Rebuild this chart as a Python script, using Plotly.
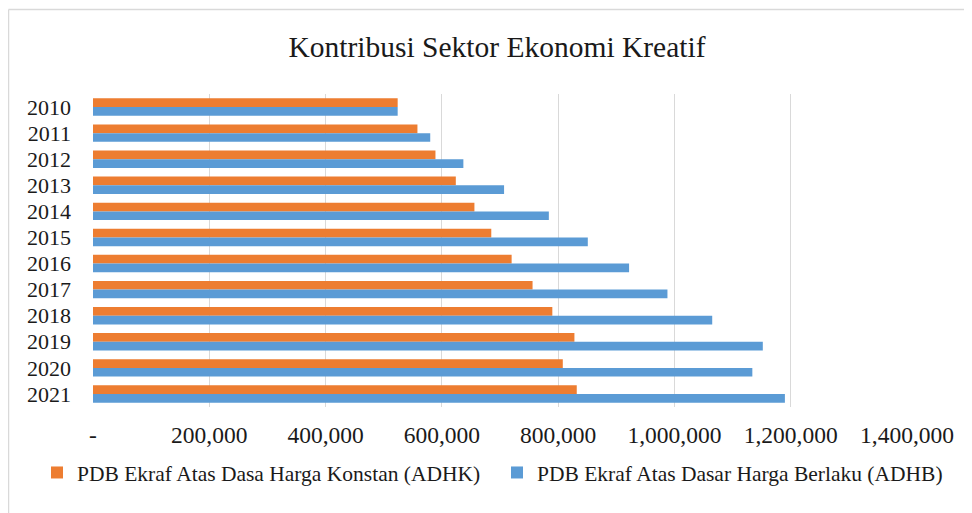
import plotly.graph_objects as go

years = ["2010", "2011", "2012", "2013", "2014", "2015", "2016", "2017", "2018", "2019", "2020", "2021"]
adhk = [524000, 558000, 589000, 624000, 656000, 685000, 720000, 756000, 790000, 828000, 808000, 832000]
adhb = [524000, 580000, 637000, 707000, 784000, 851000, 922000, 988000, 1065000, 1152000, 1134000, 1190000]
tick_vals = [0, 200000, 400000, 600000, 800000, 1000000, 1200000, 1400000]
tick_text = ["-", "200,000", "400,000", "600,000", "800,000", "1,000,000", "1,200,000", "1,400,000"]
name_adhk = "PDB Ekraf Atas Dasa Harga Konstan (ADHK)"
name_adhb = "PDB Ekraf Atas Dasar Harga Berlaku (ADHB)"
title_text = "Kontribusi Sektor Ekonomi Kreatif"

FONT = "Liberation Serif"
OFF = 8  # page body margin
W, H = 972 - OFF, 513 - OFF
# plot area in screen px: x 93..907, y 94..407
ML, MT = 93 - OFF, 94 - OFF
MR = W - (907 - OFF)
MB = H - (407 - OFF)
PW = W - ML - MR
PH = H - MT - MB


def px_x(p):
    return (p - OFF - ML) / PW


def px_y(p):
    return (H - MB - (p - OFF)) / PH


fig = go.Figure()
fig.add_trace(go.Bar(y=years, x=adhk, orientation="h", name=name_adhk, legend="legend",
                     marker=dict(color="#ED7D31", line=dict(width=0))))
fig.add_trace(go.Bar(y=years, x=adhb, orientation="h", name=name_adhb, legend="legend2",
                     marker=dict(color="#5B9BD5", line=dict(width=0))))

leg_common = dict(orientation="h", xanchor="left", yanchor="middle", bgcolor="rgba(0,0,0,0)",
                  itemwidth=30, font=dict(family=FONT, size=21.5, color="#1a1a1a"))

fig.update_layout(
    width=W, height=H,
    margin=dict(l=ML, r=MR, t=MT, b=MB, autoexpand=False),
    paper_bgcolor="white", plot_bgcolor="white",
    barmode="group", bargap=0.33, bargroupgap=0,
    font=dict(family=FONT, color="#1a1a1a", size=21),
    title=dict(text=title_text, x=(497 - OFF) / W, xanchor="center", y=1 - (47 - OFF) / H,
               yanchor="middle", yref="container", xref="container",
               font=dict(family=FONT, size=29.5, color="#1a1a1a")),
    xaxis=dict(range=[0, 1400000], tickvals=tick_vals, ticktext=tick_text,
               showgrid=True, gridcolor="#d9d9d9", gridwidth=1, zeroline=False,
               showline=False, ticks="", ticklabelstandoff=11,
               tickfont=dict(family=FONT, size=23.5, color="#1a1a1a")),
    yaxis=dict(autorange="reversed", showgrid=False, showline=False, ticks="",
               ticklabelstandoff=21, tickfont=dict(family=FONT, size=22, color="#1a1a1a")),
    legend=dict(x=px_x(37), y=px_y(472.5), **leg_common),
    legend2=dict(x=px_x(497), y=px_y(472.5), **leg_common),
    showlegend=True,
)

# outer chart border (light grey)
fig.add_shape(type="line", xref="paper", yref="paper", x0=px_x(8.5), x1=px_x(8.5),
              y0=px_y(560), y1=px_y(9.5), line=dict(color="#d9d9d9", width=1.5))
fig.add_shape(type="line", xref="paper", yref="paper", x0=px_x(8.5), x1=px_x(1000),
              y0=px_y(9.5), y1=px_y(9.5), line=dict(color="#d9d9d9", width=1.5))

fig.write_html("out.html")
